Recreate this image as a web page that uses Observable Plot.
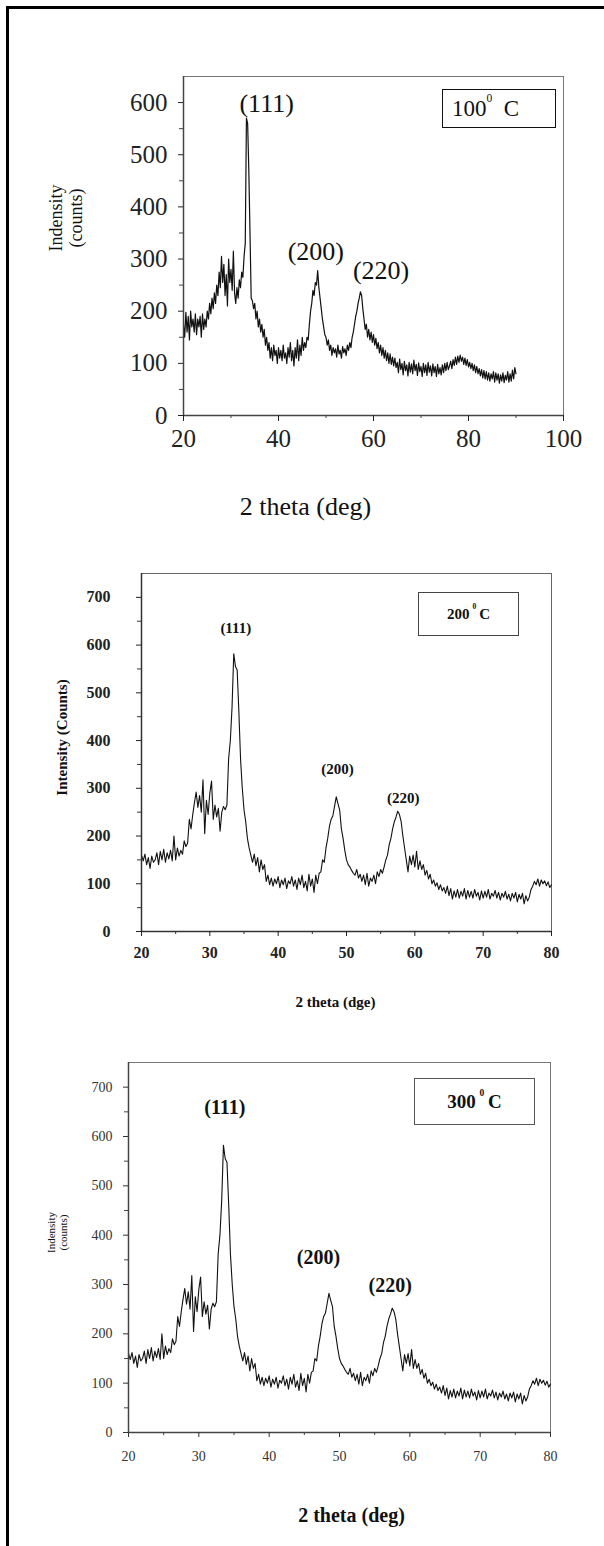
<!DOCTYPE html>
<html><head><meta charset="utf-8">
<script src="https://cdn.jsdelivr.net/npm/d3@7"></script>
<script src="https://cdn.jsdelivr.net/npm/@observablehq/plot@0.6"></script>
<style>
html,body{margin:0;padding:0;background:#fff;}
#page{position:relative;width:604px;height:1546px;overflow:hidden;background:#fff;font-family:"Liberation Serif","Times New Roman",serif;}
#border{position:absolute;left:6px;top:6px;right:-10px;bottom:-10px;border-left:3px solid #000;border-top:3px solid #000;}
.panel{position:absolute;left:0;}
.legend{position:absolute;box-sizing:border-box;display:flex;align-items:center;white-space:nowrap;color:#111;line-height:1;}
.legend sup{font-size:50%;vertical-align:0;position:relative;top:-0.9em;line-height:0;}
</style></head><body><div id="page"><div id="border"></div></div>
<script>
const serif = "'Liberation Serif', 'Times New Roman', serif";

// ---- data: 100 °C pattern, 2θ from 20° to 90° every 0.25° ----
const theta100Start = 20, theta100Step = 0.25;
const intensity100 = [
  175,150,198,160,190,145,200,170,185,
  160,195,155,185,170,190,150,195,165,185,170,
  200,185,215,195,225,205,235,215,
  250,230,275,245,305,255,290,230,270,210,300,255,280,240,315,235,215,245,225,260,245,275,265,305,
  330,570,560,470,350,225,
  220,205,215,185,200,170,185,160,175,150,165,135,150,125,
  140,110,130,105,135,115,125,100,130,110,125,105,135,110,120,100,130,112,140,105,125,95,130,110,145,105,135,115,150,125,140,130,
  150,145,175,200,215,240,230,255,250,278,245,225,205,185,170,155,150,135,
  145,125,135,115,130,120,128,112,135,118,125,110,132,120,128,115,135,125,140,130,
  150,160,175,190,200,215,225,237,230,205,185,165,175,150,165,145,160,140,
  155,135,148,128,140,120,135,115,130,110,125,105,120,100,118,98,112,95,110,92,
  102,82,108,88,100,78,104,86,97,76,102,83,99,80,106,86,98,77,101,84,94,75,100,82,97,77,102,83,95,76,99,82,94,75,98,80,92,78,97,82,100,86,102,88,
  95,104,90,107,96,112,98,114,102,116,104,112,98,110,96,107,93,102,90,100,
  86,97,82,94,80,90,76,88,72,86,70,84,68,82,66,80,70,84,64,82,68,80,62,78,66,82,63,77,68,84,64,80,66,87,70,92,80];

// ---- data: 200 °C pattern, 2θ from 20° to 80° every 0.25° ----
const theta200Start = 20, theta200Step = 0.25;
const intensity200 = [
  160,148,162,140,155,132,158,145,150,
  165,140,168,150,172,145,165,152,170,148,
  200,150,175,158,170,162,190,178,185,
  235,215,245,270,292,260,285,250,318,205,275,245,290,315,235,265,240,258,210,250,262,255,265,
  362,400,470,582,555,548,460,360,300,255,230,195,175,
  160,145,162,138,155,125,150,130,140,
  105,118,98,112,95,110,100,115,92,108,98,112,90,106,100,115,95,108,88,112,98,118,92,105,85,120,95,110,82,118,100,122,125,
  150,145,175,195,220,235,242,262,282,268,255,215,195,170,150,140,135,
  128,122,118,130,112,120,105,118,98,122,95,112,105,118,100,125,115,130,122,135,
  150,160,182,195,215,230,240,252,245,230,200,175,150,125,158,140,160,135,168,130,148,
  130,140,118,128,110,120,100,108,95,102,88,98,85,92,80,95,
  75,90,68,85,72,88,70,84,74,90,68,86,72,84,70,88,74,82,66,85,70,84,72,88,68,80,74,86,70,82,66,80,72,84,68,78,64,80,70,82,62,78,68,80,58,75,64,72,
  88,95,105,98,110,95,108,100,106,96,104,92,98];

// ---- data: 300 °C pattern (the reference shows the same trace) ----
const theta300Start = 20, theta300Step = 0.25;
const intensity300 = intensity200.slice();

// ---- peak labels ----
const peakLabels = ["(111)", "(200)", "(220)"];
const peakTheta100 = [37.5, 47.85, 61.6], peakY100 = [597, 315, 277];
const peakTheta200 = [33.8, 48.7, 58.3], peakY200 = [635, 339, 279];
const peakTheta300 = [33.7, 47.0, 57.2], peakY300 = [659, 355, 298];

// ---- ticks ----
const xTicks100 = [20, 40, 60, 80, 100], xMinor100 = [30, 50, 70, 90];
const yTicks100 = [0, 100, 200, 300, 400, 500, 600], yMinor100 = [50, 150, 250, 350, 450, 550];
const xTicks200 = [20, 30, 40, 50, 60, 70, 80], xMinor200 = [25, 35, 45, 55, 65, 75];
const yTicks200 = [0, 100, 200, 300, 400, 500, 600, 700], yMinor200 = [50, 150, 250, 350, 450, 550, 650];

const toRows = (vals, start, step) => vals.map((v, i) => ({theta: start + i * step, intensity: v}));
const data100 = toRows(intensity100, theta100Start, theta100Step);
const data200 = toRows(intensity200, theta200Start, theta200Step);
const data300 = toRows(intensity300, theta300Start, theta300Step);

const page = document.getElementById("page");
function place(svg, top) {
  const d = document.createElement("div");
  d.className = "panel"; d.style.top = top + "px";
  d.appendChild(svg); page.appendChild(d);
}
function legend(html, box, font) {
  const d = document.createElement("div");
  d.className = "legend";
  Object.assign(d.style, {left: box[0] + "px", top: box[1] + "px", width: box[2] + "px", height: box[3] + "px",
    border: box[4], justifyContent: box[5], paddingLeft: (box[6] || 0) + "px"}, font);
  d.innerHTML = html; page.appendChild(d);
}

// ---------- Panel 1 : 100 °C ----------
const p1 = Plot.plot({
  width: 604, height: 530,
  marginLeft: 183, marginRight: 41, marginTop: 76, marginBottom: 115,
  x: {domain: [20, 100], label: null}, y: {domain: [0, 650], label: null},
  style: {fontFamily: serif, background: "transparent", overflow: "visible"},
  marks: [
    Plot.frame({stroke: "#777", strokeWidth: 1}),
    Plot.line(data100, {x: "theta", y: "intensity", stroke: "#111", strokeWidth: 1.2}),
    Plot.ruleX([20], {stroke: "#444", strokeWidth: 1.5}),
    Plot.ruleY([0], {stroke: "#444", strokeWidth: 1.5}),
    Plot.axisY(yTicks100, {tickSize: 5, tickPadding: 11, fontSize: 25, color: "#222", label: null}),
    Plot.axisY(yMinor100, {tickSize: 4, tickFormat: () => "", color: "#444", label: null}),
    Plot.axisX(xTicks100, {tickSize: 6, tickPadding: 8, fontSize: 25, color: "#222", label: null}),
    Plot.axisX(xMinor100, {tickSize: 3, tickFormat: () => "", color: "#444", label: null}),
    Plot.text(peakLabels, {x: peakTheta100, y: peakY100, text: d => d, fontSize: 26, fill: "#111"}),
    Plot.text(["Indensity\n(counts)"], {frameAnchor: "left", textAnchor: "middle", lineAnchor: "middle", text: d => d, dx: -118, dy: -28, rotate: -90, fontSize: 18, lineHeight: 1.1, fill: "#111"}),
    Plot.text(["2 theta (deg)"], {frameAnchor: "bottom", textAnchor: "middle", lineAnchor: "middle", text: d => d, dx: -68, dy: 91, fontSize: 26, fill: "#111"})
  ]
});
place(p1, 0);
legend("100<sup>0</sup>&nbsp; C", [442, 89, 114, 39, "1.5px solid #111", "flex-start", 9], {fontFamily: serif, fontSize: "23px"});

// ---------- Panel 2 : 200 °C ----------
const p2 = Plot.plot({
  width: 604, height: 490,
  marginLeft: 141, marginRight: 53, marginTop: 43, marginBottom: 89,
  x: {domain: [20, 80], label: null}, y: {domain: [0, 750], label: null},
  style: {fontFamily: serif, background: "transparent", overflow: "visible"},
  marks: [
    Plot.frame({stroke: "#666", strokeWidth: 1}),
    Plot.line(data200, {x: "theta", y: "intensity", stroke: "#111", strokeWidth: 1.1}),
    Plot.ruleX([20], {stroke: "#333", strokeWidth: 1.5}),
    Plot.ruleY([0], {stroke: "#333", strokeWidth: 1.5}),
    Plot.axisY(yTicks200, {tickSize: 5, tickPadding: 26, fontSize: 16, fontWeight: "bold", color: "#222", label: null}),
    Plot.axisY(yMinor200, {tickSize: 4, tickFormat: () => "", color: "#333", label: null}),
    Plot.axisX(xTicks200, {tickSize: 5, tickPadding: 10, fontSize: 16, fontWeight: "bold", color: "#222", label: null}),
    Plot.axisX(xMinor200, {tickSize: 3, tickFormat: () => "", color: "#333", label: null}),
    Plot.text(peakLabels, {x: peakTheta200, y: peakY200, text: d => d, fontSize: 15, fontWeight: "bold", fill: "#111"}),
    Plot.text(["Intensity (Counts)"], {frameAnchor: "left", textAnchor: "middle", lineAnchor: "middle", text: d => d, dx: -79, dy: -15, rotate: -90, fontSize: 15, fontWeight: "bold", fill: "#111"}),
    Plot.text(["2 theta (dge)"], {frameAnchor: "bottom", textAnchor: "middle", lineAnchor: "middle", text: d => d, dx: -11, dy: 71, fontSize: 15, fontWeight: "bold", fill: "#111"})
  ]
});
place(p2, 530);
legend("200&thinsp;<sup>0</sup>&thinsp;C", [418, 592, 101, 44, "1px solid #444", "center"], {fontFamily: serif, fontSize: "15px", fontWeight: "bold"});

// ---------- Panel 3 : 300 °C ----------
const p3 = Plot.plot({
  width: 604, height: 526,
  marginLeft: 128, marginRight: 54, marginTop: 42, marginBottom: 114,
  x: {domain: [20, 80], label: null}, y: {domain: [0, 750], label: null},
  style: {fontFamily: serif, background: "transparent", overflow: "visible"},
  marks: [
    Plot.frame({stroke: "#777", strokeWidth: 1}),
    Plot.line(data300, {x: "theta", y: "intensity", stroke: "#111", strokeWidth: 1.1}),
    Plot.ruleX([20], {stroke: "#444", strokeWidth: 1.5}),
    Plot.ruleY([0], {stroke: "#444", strokeWidth: 1.5}),
    Plot.axisY(yTicks200, {tickSize: 5, tickPadding: 11, fontSize: 14, color: "#333", label: null}),
    Plot.axisY(yMinor200, {tickSize: 4, tickFormat: () => "", color: "#444", label: null}),
    Plot.axisX(xTicks200, {tickSize: 5, tickPadding: 14, fontSize: 14, color: "#333", label: null}),
    Plot.axisX(xMinor200, {tickSize: 3, tickFormat: () => "", color: "#444", label: null}),
    Plot.text(peakLabels, {x: peakTheta300, y: peakY300, text: d => d, fontSize: 20, fontWeight: "bold", fill: "#111"}),
    Plot.text(["Indensity\n(counts)"], {frameAnchor: "left", textAnchor: "middle", lineAnchor: "middle", text: d => d, dx: -71, dy: -15, rotate: -90, fontSize: 11, lineHeight: 1.05, fill: "#111"}),
    Plot.text(["2 theta (deg)"], {frameAnchor: "bottom", textAnchor: "middle", lineAnchor: "middle", text: d => d, dx: 12, dy: 83, fontSize: 20, fontWeight: "bold", fill: "#111"})
  ]
});
place(p3, 1020);
legend("300&thinsp;<sup>0</sup>&thinsp;C", [414, 1078, 121, 47, "1.5px solid #555", "center"], {fontFamily: serif, fontSize: "19px", fontWeight: "bold"});
</script></body></html>
